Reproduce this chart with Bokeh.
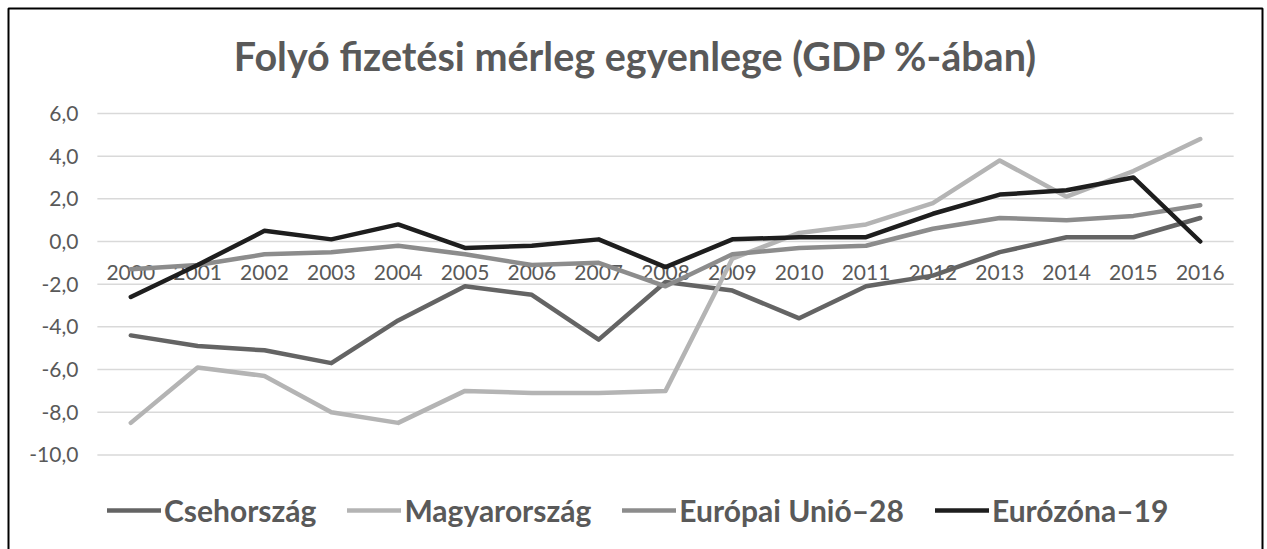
from bokeh.plotting import figure
from bokeh.models import Range1d, Legend, LegendItem
from bokeh.core.properties import value
from bokeh.embed import file_html
from bokeh.resources import INLINE

years = list(range(2000, 2017))
year_labels = [str(y) for y in years]
cseh = [-4.4, -4.9, -5.1, -5.7, -3.7, -2.1, -2.5, -4.6, -1.9, -2.3, -3.6, -2.1, -1.6, -0.5, 0.2, 0.2, 1.1]
magyar = [-8.5, -5.9, -6.3, -8.0, -8.5, -7.0, -7.1, -7.1, -7.0, -0.8, 0.4, 0.8, 1.8, 3.8, 2.1, 3.3, 4.8]
eu28 = [-1.3, -1.1, -0.6, -0.5, -0.2, -0.6, -1.1, -1.0, -2.1, -0.6, -0.3, -0.2, 0.6, 1.1, 1.0, 1.2, 1.7]
euro19 = [-2.6, -1.1, 0.5, 0.1, 0.8, -0.3, -0.2, 0.1, -1.2, 0.1, 0.2, 0.2, 1.3, 2.2, 2.4, 3.0, 0.0]
y_ticks = [-10, -8, -6, -4, -2, 0, 2, 4, 6]
y_tick_labels = [f"{t:.1f}".replace(".", ",") for t in y_ticks]
axis_cross = 0
title_text = "Folyó fizetési mérleg egyenlege (GDP %-ában)"
series_names = ["Csehország", "Magyarország", "Európai Unió–28", "Eurózóna–19"]
colors = ["#646464", "#b4b4b4", "#8c8c8c", "#1e1e1e"]

FONT = "Lato"
TXT = "#595959"
W, H = 1267, 549

# layout in pixels (canvas coordinates)
cat_px = 66.84          # width of one category
first_px = 130.3        # centre of first category from canvas left
zero_px = 241.0         # y=0 from canvas top
unit_px = 21.34         # pixels per one unit of y
border_px = 8           # chart border inset (left/top)
border_right_px = 1262  # chart border right edge

x_start = years[0] - first_px / cat_px
x_end = years[0] + (W - first_px) / cat_px
y_end = zero_px / unit_px
y_start = -(H - zero_px) / unit_px

p = figure(width=W, height=H, x_range=Range1d(x_start, x_end), y_range=Range1d(y_start, y_end),
           output_backend="svg", toolbar_location=None,
           min_border=0, min_border_left=0, min_border_right=0, min_border_top=0, min_border_bottom=0)
p.xaxis.visible = False
p.yaxis.visible = False
p.xgrid.visible = False
p.ygrid.visible = False
p.outline_line_color = None
p.background_fill_color = "white"
p.border_fill_color = "white"

# chart border (left, top, right edges)
bx0 = x_start + border_px / cat_px
bx1 = x_start + border_right_px / cat_px
by_top = y_end - border_px / unit_px
by_bot = y_start - 1
p.line(x=[bx0, bx0, bx1, bx1], y=[by_bot, by_top, by_top, by_bot], line_color="black", line_width=2)

gx0 = years[0] - 0.5
gx1 = years[-1] + 0.5
p.segment(x0=[gx0] * len(y_ticks), x1=[gx1] * len(y_ticks), y0=y_ticks, y1=y_ticks,
          line_color="#d9d9d9", line_width=1.5)

p.text(x=[gx0] * len(y_ticks), y=y_ticks, text=y_tick_labels, text_font=value(FONT), text_font_size="21px",
       text_color=TXT, text_align="right", text_baseline="middle", x_offset=-19)

p.text(x=years, y=[axis_cross] * len(years), text=year_labels, text_font=value(FONT), text_font_size="21px",
       text_color=TXT, text_align="center", text_baseline="middle", y_offset=31)

items = []
for name, vals, c in zip(series_names, [cseh, magyar, eu28, euro19], colors):
    r = p.line(years, vals, line_color=c, line_width=4.5, line_join="round", line_cap="round")
    items.append(LegendItem(label=name, renderers=[r]))

p.text(x=[x_start + (border_px + border_right_px) / 2 / cat_px], y=[y_end], text=[title_text],
       text_font=value(FONT), text_font_size="39.5px",
       text_font_style="bold", text_color=TXT, text_align="center", text_baseline="middle", y_offset=55)

legend = Legend(items=items, orientation="horizontal", location=(107, 21),
                label_text_font=FONT, label_text_font_size="30px", label_text_font_style="bold",
                label_text_color=TXT, glyph_width=54, glyph_height=30, label_standoff=3, spacing=31,
                border_line_color=None, background_fill_alpha=0, padding=0, margin=0)
p.add_layout(legend)

open("out.html", "w").write(file_html(p, INLINE))
